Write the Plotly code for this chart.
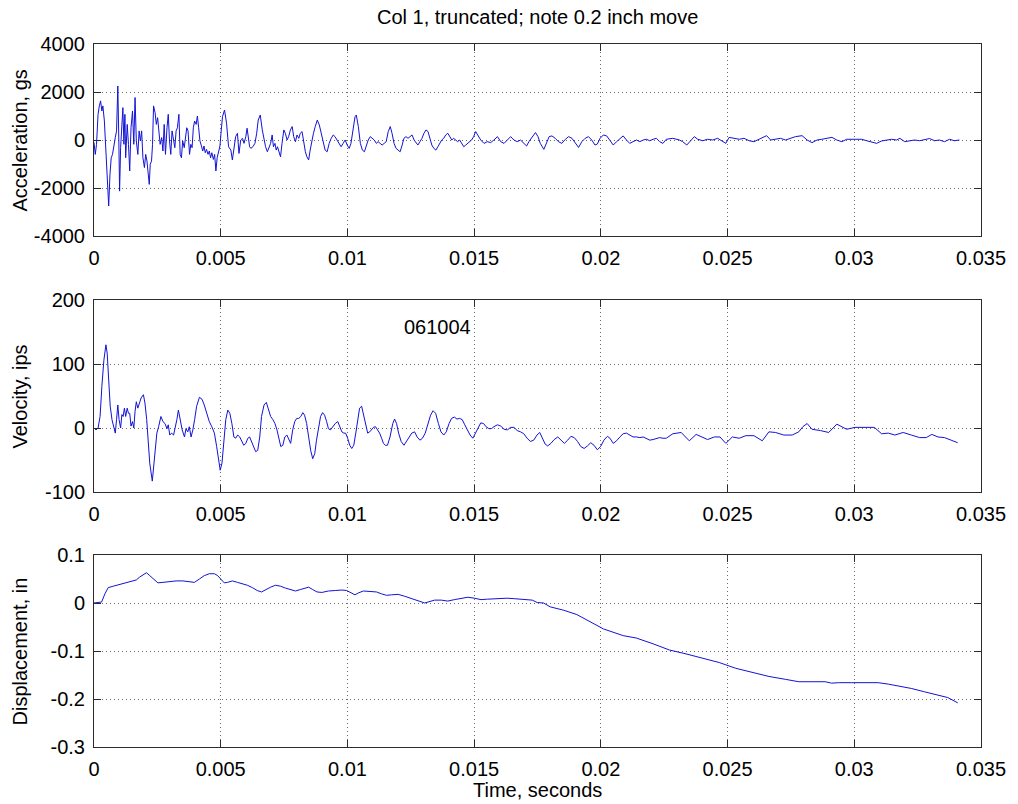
import numpy as np
import plotly.graph_objects as go

# ---------------- data (time in milliseconds) ----------------
acc_t_ms = [
    0, 0.05, 0.10, 0.16, 0.21, 0.26, 0.31, 0.35, 0.41, 0.46,
    0.51, 0.58, 0.63, 0.68, 0.73, 0.78, 0.84, 0.89, 0.94, 0.98,
    1.01, 1.05, 1.10, 1.14, 1.18, 1.22, 1.25, 1.31, 1.36, 1.41,
    1.46, 1.52, 1.57, 1.62, 1.67, 1.73, 1.78, 1.83, 1.88, 1.93,
    1.99, 2.04, 2.09, 2.14, 2.18, 2.22, 2.27, 2.31, 2.35, 2.41,
    2.46, 2.51, 2.56, 2.61, 2.67, 2.72, 2.77, 2.82, 2.88, 2.93,
    2.98, 3.03, 3.08, 3.14, 3.19, 3.24, 3.29, 3.35, 3.40, 3.45,
    3.50, 3.56, 3.61, 3.66, 3.71, 3.77, 3.82, 3.87, 3.92, 3.97,
    4.03, 4.08, 4.13, 4.18, 4.24, 4.29, 4.34, 4.39, 4.44, 4.50,
    4.55, 4.60, 4.65, 4.71, 4.76, 4.81, 4.86, 4.92, 4.97,
    5.01, 5.07, 5.15, 5.23, 5.31, 5.40, 5.46, 5.53, 5.59, 5.66,
    5.72, 5.79, 5.86, 5.92, 5.99, 6.04, 6.09, 6.14, 6.19, 6.27,
    6.35, 6.42, 6.48, 6.56, 6.64, 6.70, 6.77, 6.84, 6.90, 6.97,
    7.03, 7.08, 7.14, 7.19, 7.24, 7.29, 7.36, 7.42, 7.49, 7.55,
    7.62, 7.68, 7.75, 7.82, 7.88, 7.95, 8.01, 8.08, 8.14, 8.21,
    8.27, 8.34, 8.40, 8.47, 8.53, 8.60, 8.66, 8.73, 8.81, 8.89,
    8.97, 9.05, 9.12, 9.20, 9.28, 9.36, 9.44, 9.51, 9.59, 9.67,
    9.75, 9.83, 9.91, 9.99, 10.07, 10.14, 10.22, 10.30, 10.35, 10.43,
    10.51, 10.59, 10.67, 10.74, 10.82, 10.90, 10.98, 11.06, 11.14, 11.21,
    11.29, 11.37, 11.45, 11.53, 11.61, 11.69, 11.76, 11.84, 11.92, 12.00,
    12.08, 12.16, 12.23, 12.31, 12.39, 12.47, 12.55, 12.63, 12.71, 12.78,
    12.86, 12.94, 13.02, 13.10, 13.18, 13.25, 13.33, 13.41, 13.49, 13.57,
    13.65, 13.72, 13.80, 13.88, 13.96, 14.04, 14.12, 14.19, 14.27, 14.35,
    14.43, 14.51, 14.59, 14.67, 14.74, 14.82, 14.90, 14.98, 15.06,
    15.26, 15.39, 15.52, 15.65, 15.78, 15.92, 16.05, 16.18, 16.31, 16.44,
    16.57, 16.70, 16.83, 16.96, 17.07, 17.16, 17.29, 17.42, 17.52, 17.61,
    17.75, 17.85, 17.96, 18.07, 18.20, 18.33, 18.46, 18.60, 18.73, 18.86,
    18.99, 19.12, 19.25, 19.38, 19.51, 19.64, 19.77, 19.86, 19.97, 20.10,
    20.23, 20.36, 20.49, 20.62, 20.75, 20.88, 21.01, 21.14, 21.27, 21.41,
    21.54, 21.67, 21.80, 21.93, 22.06, 22.19, 22.32, 22.45,
    22.58, 22.84, 23.10, 23.23, 23.39, 23.56, 23.69, 23.82, 24.02, 24.21,
    24.41, 24.61, 24.80, 24.93, 25.06, 25.26, 25.46, 25.65, 25.85, 26.04,
    26.24, 26.44, 26.54, 26.70, 26.89, 27.09, 27.29, 27.48, 27.68, 27.94,
    28.14, 28.33, 28.53, 28.72, 28.92, 29.12, 29.31, 29.51, 29.70, 29.90,
    30.10, 30.29, 30.49, 30.68, 30.88, 31.08, 31.27, 31.47, 31.67, 31.80,
    31.99, 32.19, 32.38, 32.58, 32.78, 32.97, 33.17, 33.36, 33.56, 33.76,
    33.95, 34.15,
]
acc_gs = [
    -100, -600, -180, 1070, 1420, 1630, 1210, 1420, 790, -460,
    -1430, -2750, -1430, -740, -600, -180, 100, 380, 2250, -40,
    -2130, -320, 650, 1350, -180, 1070, -740, 650, -180, -1290,
    510, 1210, -180, 1770, -40, -600, 380, -40, 380, -740,
    -1150, -600, -880, -1430, -1850, -1010, -880, -180, 1420, 1140,
    650, 930, 240, -180, 100, -460, 650, -600, 510, 1070,
    -40, -600, 380, -40, -320, 380, 510, 1070, -600, -740,
    -40, -320, 240, 510, 380, -600, -180, -320, 510, 790,
    650, 1000, 510, -40, -250, -460, -250, -530, -390, -600,
    -460, -740, -530, -810, -600, -1290, -740, -460, -250,
    280, 970, 1250, 700, -280, -420, -830, -280, 140, 280,
    -560, 0, 70, -140, 140, 490, 0, -280, -350, -280,
    -140, 280, 830, 1040, 420, 0, -280, -490, -280, -140,
    210, -280, -140, -420, -280, -420, -700, -140, 420, 280,
    0, 140, 420, 560, 140, -70, 210, 70, 280, 350,
    -140, -490, -700, -830, -420, 0, 280, 560, 830, 630,
    210, -140, -420, -490, -140, 70, 210, 140, 0, -140,
    -280, -140, 0, -210, -350, -140, 420, 970, 1040, 560,
    -140, -420, -490, -280, 0, 140, 70, 0, -140, -70,
    -140, -210, -140, -70, 350, 560, 280, -140, -350, -420,
    -490, -210, 70, 140, 70, 140, 210, 0, -140, -210,
    -70, 70, 280, 420, 350, 70, -210, -350, -420, -280,
    -140, 0, 70, 210, 280, 140, 0, 70, 0, -70,
    0, -140, -280, -210, -140, -70, 0, 140, 350,
    0, -140, -70, -110, 0, 140, -70, -140, 0, 140,
    0, -70, 0, -140, -250, -70, 140, 310, 140, -140,
    -390, -140, 140, 170, 70, -70, -140, 30, 140, 70,
    -140, -310, -70, 70, 140, 0, -210, -170, 70, 210,
    170, 0, -210, -70, 70, 170, 0, -140, -70, 0,
    -70, 0, 30, -30, 30, 70, -70, -140,
    30, 70, 0, -70, -210, 0, 140, 30, -30, 30,
    0, 70, -70, -140, 110, 70, 30, 70, -30, -70,
    30, 140, 180, 0, 30, 70, 0, 70, 140, 180,
    0, -110, 0, 30, 70, 110, 0, -70, 30, 30,
    0, 30, -30, -70, -140, -40, 0, 30, 0, 70,
    -70, -30, 0, -30, 30, 60, -30, 0, -70, 30,
    -30, 0,
]

vel_t_ms = [
    0, 0.08, 0.16, 0.24, 0.31, 0.39, 0.47, 0.52, 0.58, 0.64,
    0.71, 0.77, 0.84, 0.89, 0.94, 0.99, 1.05, 1.10, 1.15, 1.20,
    1.25, 1.31, 1.36, 1.41, 1.46, 1.52, 1.57, 1.62, 1.67, 1.73,
    1.78, 1.86, 1.95, 2.01, 2.08, 2.14,
    2.20, 2.30, 2.39, 2.48, 2.55, 2.64, 2.72, 2.80, 2.88, 2.93,
    2.99, 3.06, 3.14, 3.22, 3.27, 3.33, 3.40, 3.48, 3.57, 3.63,
    3.70, 3.76, 3.83, 3.90, 3.97, 4.05, 4.16, 4.26, 4.35, 4.44,
    4.55, 4.65, 4.75, 4.84, 4.92, 4.98, 5.05, 5.12, 5.20, 5.28,
    5.36, 5.44, 5.52, 5.59, 5.67, 5.75, 5.83, 5.91, 5.99, 6.07,
    6.14, 6.22, 6.30, 6.38, 6.46, 6.54, 6.61, 6.71, 6.80, 6.88,
    6.97, 7.06, 7.14, 7.22, 7.29, 7.37, 7.45, 7.53, 7.61, 7.69,
    7.76, 7.84, 7.92, 8.00, 8.08, 8.16, 8.24, 8.31, 8.39, 8.47,
    8.55, 8.63, 8.71, 8.78, 8.86, 8.94, 9.02, 9.10, 9.18, 9.25,
    9.33, 9.41, 9.52, 9.62, 9.70, 9.78, 9.86, 9.93, 10.01, 10.09,
    10.17, 10.25, 10.33, 10.41, 10.48, 10.56, 10.64, 10.72, 10.80, 10.88,
    10.95, 11.03, 11.11, 11.19, 11.27, 11.35, 11.42, 11.50,
    11.58, 11.68, 11.79, 11.86, 11.94, 12.02, 12.12, 12.23, 12.33, 12.44,
    12.54, 12.65, 12.75, 12.86, 12.96, 13.07, 13.17, 13.28, 13.38, 13.48,
    13.59, 13.69, 13.80, 13.90, 14.01, 14.11, 14.22, 14.32, 14.43, 14.53,
    14.63, 14.74, 14.84, 14.95, 15.05, 15.16, 15.26, 15.37, 15.47, 15.58,
    15.68, 15.78, 15.92, 16.05, 16.18, 16.31, 16.44, 16.57, 16.70, 16.83,
    16.96, 17.09, 17.22, 17.35, 17.48, 17.59, 17.69, 17.80, 17.90, 18.03,
    18.16, 18.30, 18.43, 18.56, 18.69, 18.82, 18.95, 19.08, 19.21, 19.34,
    19.47, 19.60, 19.73, 19.86, 19.99, 20.12, 20.26, 20.36, 20.49, 20.62,
    20.75, 20.88, 21.01, 21.14, 21.27, 21.41, 21.54, 21.67, 21.80, 21.93,
    22.06, 22.19, 22.32, 22.45,
    22.58, 22.84, 23.17, 23.34, 23.49, 23.76, 24.02, 24.21, 24.48, 24.70,
    24.93, 25.19, 25.46, 25.72, 26.04, 26.37, 26.63, 26.89, 27.22, 27.55,
    27.81, 27.97, 28.14, 28.33, 28.66, 28.99, 29.31, 29.51, 29.70, 30.03,
    30.42, 30.79, 31.08, 31.34, 31.60, 31.93, 32.25, 32.58, 32.84, 33.06,
    33.30, 33.56, 33.82, 34.08,
]
vel_ips = [
    0, -3, 0, 18, 65, 106, 130, 117, 75, 34,
    13, 3, -8, 13, 36, 13, 0, 21, 18, 31,
    18, 31, 23, 23, 3, 10, 0, 26, 41, 31,
    39, 47, 52, 39, 13, -23,
    -55, -83, -50, -8, 2, 18, 10, 7, -1, 5,
    -11, -8, -11, 2, 13, 28, 10, -3, -14, -1,
    -6, 2, -14, -3, 13, 34, 48, 45, 36, 23,
    10, 2, -8, -29, -53, -66, -55, -19, 13, 28,
    23, 7, -14, -16, -11, -14, -21, -27, -24, -16,
    -14, -21, -29, -37, -35, -14, 18, 36, 40, 31,
    18, 13, 7, -3, -14, -29, -27, -14, -11, -19,
    -24, -3, 10, 15, 15, 18, 24, 20, 7, -14,
    -35, -48, -40, -19, 2, 18, 24, 20, 10, -1,
    -3, 2, 7, 10, 2, -6, -8, -8, -16, -27,
    -32, -27, -8, 15, 31, 34, 20, 2, -8, -6,
    -3, 1, 2, -3, -8, -16, -24, -27,
    -27, -14, 7, 14, 7, -8, -21, -27, -21, -14,
    -8, -6, -14, -19, -16, -8, 7, 20, 27, 23,
    7, -6, -11, -6, 7, 15, 17, 14, 15, 13,
    5, -3, -11, -16, -8, 2, 8, 7, 2, -1,
    -1, 2, 5, 3, -2, -3, 1, 1, -4, -6,
    -9, -16, -21, -19, -11, -7, -16, -25, -28, -24,
    -18, -14, -19, -24, -19, -13, -15, -21, -29, -32,
    -28, -23, -27, -34, -29, -19, -13, -16, -24, -20,
    -14, -9, -8, -11, -14, -14, -15, -14, -16, -19,
    -18, -16, -15, -16,
    -16, -9, -7, -14, -20, -10, -14, -18, -14, -14,
    -24, -14, -16, -12, -12, -20, -6, -7, -11, -11,
    -6, 2, 7, -2, -4, -7, 6, 2, -2, 1,
    1, 1, -9, -8, -11, -7, -11, -15, -15, -10,
    -14, -15, -19, -23,
]

disp_t_ms = [
    0, 0.30, 0.43, 0.56, 0.76, 1.02, 1.28, 1.48, 1.67, 1.80,
    1.93, 2.07, 2.20, 2.39, 2.52, 2.72, 2.98, 3.24, 3.50, 3.76,
    3.96, 4.16, 4.35, 4.55, 4.75, 4.88, 5.02, 5.14, 5.27, 5.46,
    5.66, 5.86, 6.05, 6.25, 6.44, 6.61, 6.77, 6.97, 7.16, 7.36,
    7.56, 7.75, 7.95, 8.14, 8.34, 8.47, 8.63, 8.80, 8.99, 9.25,
    9.52, 9.78, 9.97, 10.17, 10.30, 10.43, 10.63, 10.89, 11.15, 11.35,
    11.54, 11.74, 12.00, 12.26, 12.52, 12.78, 13.05, 13.18, 13.44, 13.70,
    13.96, 14.22, 14.48, 14.75, 15.01, 15.27, 15.53, 15.79, 16.05, 16.31,
    16.58, 16.84, 17.10, 17.29, 17.49,
    17.74, 18.00, 18.53, 19.05, 19.57, 20.10, 20.88, 21.40, 22.06, 22.71,
    23.36, 24.02, 24.67, 25.32, 25.98, 26.63, 27.28, 27.81, 28.33, 28.85,
    29.11, 29.38, 29.90, 30.55, 30.94, 31.34, 31.86, 32.25, 32.77, 33.30,
    33.69, 34.08,
]
disp_in = [
    0, 0.002, 0.019, 0.032, 0.035, 0.039, 0.042, 0.046, 0.048, 0.054,
    0.059, 0.063, 0.057, 0.047, 0.042, 0.043, 0.045, 0.046, 0.046, 0.045,
    0.043, 0.050, 0.057, 0.061, 0.061, 0.057, 0.048, 0.042, 0.043, 0.046,
    0.043, 0.040, 0.037, 0.032, 0.026, 0.023, 0.028, 0.033, 0.037, 0.035,
    0.031, 0.028, 0.025, 0.028, 0.032, 0.033, 0.028, 0.023, 0.022, 0.025,
    0.026, 0.027, 0.026, 0.021, 0.017, 0.021, 0.025, 0.024, 0.023, 0.019,
    0.016, 0.017, 0.018, 0.014, 0.009, 0.004, 0.000, 0.002, 0.006, 0.006,
    0.004, 0.007, 0.010, 0.012, 0.010, 0.007, 0.008, 0.009, 0.010, 0.010,
    0.009, 0.008, 0.008, 0.006, 0.001,
    0.0, -0.008, -0.015, -0.024, -0.038, -0.054, -0.068, -0.073, -0.085, -0.098,
    -0.106, -0.115, -0.124, -0.136, -0.145, -0.153, -0.159, -0.164, -0.164, -0.164,
    -0.167, -0.166, -0.166, -0.166, -0.166, -0.169, -0.174, -0.178, -0.185, -0.192,
    -0.197, -0.208,
]

assert len(acc_t_ms) == len(acc_gs), (len(acc_t_ms), len(acc_gs))
assert len(vel_t_ms) == len(vel_ips), (len(vel_t_ms), len(vel_ips))
assert len(disp_t_ms) == len(disp_in), (len(disp_t_ms), len(disp_in))

x_tick_vals = [0, 0.005, 0.01, 0.015, 0.02, 0.025, 0.03, 0.035]
x_tick_text = ["0", "0.005", "0.01", "0.015", "0.02", "0.025", "0.03", "0.035"]
acc_tick_vals = [-4000, -2000, 0, 2000, 4000]
acc_tick_text = ["-4000", "-2000", "0", "2000", "4000"]
vel_tick_vals = [-100, 0, 100, 200]
vel_tick_text = ["-100", "0", "100", "200"]
disp_tick_vals = [-0.3, -0.2, -0.1, 0, 0.1]
disp_tick_text = ["-0.3", "-0.2", "-0.1", "0", "0.1"]

title_text = "Col 1, truncated; note 0.2 inch move"
note_text = "061004"

# ---------------- figure ----------------
FONT = "Liberation Sans, Arial, Helvetica, sans-serif"
FS = 20
LINE = "#1212d8"
AX = "#2b2b2b"
GRID = "#6a6a6a"

fig = go.Figure()
line_style = dict(color=LINE, width=1)
fig.add_trace(go.Scatter(x=np.array(acc_t_ms) / 1000.0, y=acc_gs, mode="lines",
                         line=line_style, xaxis="x", yaxis="y", showlegend=False))
fig.add_trace(go.Scatter(x=np.array(vel_t_ms) / 1000.0, y=vel_ips, mode="lines",
                         line=line_style, xaxis="x2", yaxis="y2", showlegend=False))
fig.add_trace(go.Scatter(x=np.array(disp_t_ms) / 1000.0, y=disp_in, mode="lines",
                         line=line_style, xaxis="x3", yaxis="y3", showlegend=False))

W, H = 1018, 804
ML, MR, MT, MB = 94, 31, 44, 57
PH = H - MT - MB


def ydom(top_px, bot_px):
    return [(H - MB - bot_px) / PH, (H - MB - top_px) / PH]


def axis_common():
    return dict(
        showline=True, linecolor=AX, linewidth=1, mirror="allticks",
        ticks="inside", ticklen=7, tickcolor=AX, tickwidth=1,
        showgrid=True, gridcolor=GRID, gridwidth=1, griddash="1px,3px",
        zeroline=False, tickfont=dict(family=FONT, size=FS, color="black"),
        ticklabelstandoff=4,
    )


xcommon = dict(range=[0, 0.035], tickvals=x_tick_vals, ticktext=x_tick_text, **axis_common())
layout = dict(
    width=W, height=H,
    margin=dict(l=ML, r=MR, t=MT, b=MB, pad=0),
    paper_bgcolor="white", plot_bgcolor="white",
    font=dict(family=FONT, size=FS, color="black"),
    xaxis=dict(domain=[0, 1], anchor="y", **xcommon),
    xaxis2=dict(domain=[0, 1], anchor="y2", **xcommon),
    xaxis3=dict(domain=[0, 1], anchor="y3", **xcommon),
    yaxis=dict(domain=ydom(44, 236), anchor="x", range=[-4000, 4000],
               tickvals=acc_tick_vals, ticktext=acc_tick_text, **axis_common()),
    yaxis2=dict(domain=ydom(300, 492), anchor="x2", range=[-100, 200],
                tickvals=vel_tick_vals, ticktext=vel_tick_text, **axis_common()),
    yaxis3=dict(domain=ydom(555, 747), anchor="x3", range=[-0.3, 0.1],
                tickvals=disp_tick_vals, ticktext=disp_tick_text, **axis_common()),
)
fig.update_layout(**layout)


def py_to_paper(py):
    return (H - MB - py) / PH


def px_to_paper(px):
    return (px - ML) / (W - ML - MR)


annos = [
    dict(text=title_text, x=0.5, y=py_to_paper(17), xref="paper", yref="paper",
         xanchor="center", yanchor="middle", showarrow=False, font=dict(size=FS)),
    dict(text="Time, seconds", x=0.5, y=py_to_paper(790), xref="paper", yref="paper",
         xanchor="center", yanchor="middle", showarrow=False, font=dict(size=FS)),
    dict(text="Acceleration, gs", x=px_to_paper(20), y=py_to_paper(140), xref="paper", yref="paper",
         xanchor="center", yanchor="middle", textangle=-90, showarrow=False, font=dict(size=FS)),
    dict(text="Velocity, ips", x=px_to_paper(20), y=py_to_paper(396), xref="paper", yref="paper",
         xanchor="center", yanchor="middle", textangle=-90, showarrow=False, font=dict(size=FS)),
    dict(text="Displacement, in", x=px_to_paper(20), y=py_to_paper(651), xref="paper", yref="paper",
         xanchor="center", yanchor="middle", textangle=-90, showarrow=False, font=dict(size=FS)),
    dict(text=note_text, x=0.01356, y=158, xref="x2", yref="y2",
         xanchor="center", yanchor="middle", showarrow=False, font=dict(size=FS)),
]
fig.update_layout(annotations=annos)

fig.write_html("out.html")
